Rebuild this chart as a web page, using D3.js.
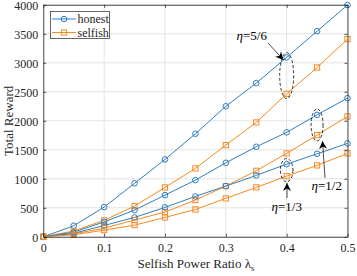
<!DOCTYPE html>
<html><head><meta charset="utf-8">
<script src="https://cdn.jsdelivr.net/npm/d3@7"></script>
<style>
html,body{margin:0;padding:0;background:#fff;}
svg{display:block;font-family:"Liberation Serif","Times New Roman",serif;}
</style></head>
<body>
<svg id="c" width="357" height="276"></svg>
<script>
const lambdas = [0, 0.05, 0.1, 0.15, 0.2, 0.25, 0.3, 0.35, 0.4, 0.45, 0.5];
const honest56  = [0, 190, 512, 922, 1334, 1776, 2250, 2650, 3093, 3546, 3995];
const selfish56 = [0, 100, 283, 530, 851, 1179, 1581, 1972, 2465, 2920, 3408];
const honest12  = [0, 80, 258, 460, 719, 977, 1276, 1552, 1800, 2103, 2391];
const selfish12 = [0, 50, 150, 288, 426, 633, 874, 1138, 1438, 1753, 2076];
const honest13  = [0, 60, 195, 334, 507, 697, 874, 1058, 1253, 1431, 1610];
const selfish13 = [0, 35, 115, 201, 334, 472, 662, 852, 1046, 1231, 1438];
const xTicks = [0, 0.1, 0.2, 0.3, 0.4, 0.5];
const yTicks = [0, 500, 1000, 1500, 2000, 2500, 3000, 3500, 4000];
const legendLabels = ["honest", "selfish"];

const blue = "#2f7fc0", orange = "#f7891f";
const svg = d3.select("#c");
const L = 43.3, R = 347.5, T = 4.8, B = 236.8;
const x = d3.scaleLinear().domain([0, 0.5]).range([L, R]);
const y = d3.scaleLinear().domain([0, 4000]).range([B, T]);

// grid
const g = svg.append("g");
g.selectAll(".gx").data(xTicks).join("line")
  .attr("x1", d => x(d)).attr("x2", d => x(d)).attr("y1", T).attr("y2", B)
  .attr("stroke", "#e3e3e3").attr("stroke-width", 1);
g.selectAll(".gy").data(yTicks).join("line")
  .attr("y1", d => y(d)).attr("y2", d => y(d)).attr("x1", L).attr("x2", R)
  .attr("stroke", "#e3e3e3").attr("stroke-width", 1);

// series
const series = [
  {v: honest56, c: blue, m: "o"}, {v: selfish56, c: orange, m: "s"},
  {v: honest12, c: blue, m: "o"}, {v: selfish12, c: orange, m: "s"},
  {v: honest13, c: blue, m: "o"}, {v: selfish13, c: orange, m: "s"}
];
const line = d3.line().x((d, i) => x(lambdas[i])).y(d => y(d));
function marker(sel, m, c) {
  if (m === "o") {
    sel.append("circle").attr("r", 2.8).attr("fill", "none").attr("stroke", c).attr("stroke-width", 1);
  } else {
    sel.append("rect").attr("x", -2.6).attr("y", -2.6).attr("width", 5.2).attr("height", 5.2)
      .attr("fill", "none").attr("stroke", c).attr("stroke-width", 1);
  }
}
series.forEach(s => {
  svg.append("path").datum(s.v).attr("d", line).attr("fill", "none")
    .attr("stroke", s.c).attr("stroke-width", 1);
});
series.forEach(s => {
  s.v.forEach((d, i) => {
    const mg = svg.append("g").attr("transform", `translate(${x(lambdas[i])},${y(d)})`);
    marker(mg, s.m, s.c);
  });
});

// axes
const axCol = "#262626";
const xa = svg.append("g").attr("transform", `translate(0,${B})`)
  .call(d3.axisBottom(x).tickValues(xTicks).tickSizeInner(-3).tickSizeOuter(0).tickPadding(7).tickFormat(d3.format("")));
const xt = svg.append("g").attr("transform", `translate(0,${T})`)
  .call(d3.axisTop(x).tickValues(xTicks).tickSizeInner(-3).tickSizeOuter(0).tickFormat(""));
const ya = svg.append("g").attr("transform", `translate(${L},0)`)
  .call(d3.axisLeft(y).tickValues(yTicks).tickSizeInner(-3).tickSizeOuter(0).tickPadding(5).tickFormat(d3.format("")));
const yr = svg.append("g").attr("transform", `translate(${R},0)`)
  .call(d3.axisRight(y).tickValues(yTicks).tickSizeInner(-3).tickSizeOuter(0).tickFormat(""));
[xa, xt, ya, yr].forEach(a => {
  a.select(".domain").attr("stroke", axCol).attr("stroke-width", 0.8);
  a.selectAll(".tick line").attr("stroke", axCol).attr("stroke-width", 0.8);
  a.selectAll("text").attr("fill", axCol).attr("font-size", 12)
    .attr("font-family", "Liberation Serif, serif");
});
ya.selectAll("text").attr("dy", "0.42em");

// axis labels
svg.append("text").attr("x", 196).attr("y", 268).attr("text-anchor", "middle")
  .attr("font-size", 13).attr("fill", axCol)
  .text("Selfish Power Ratio λ")
  .append("tspan").attr("font-size", 9).attr("dy", 3).text("s");
svg.append("text").attr("transform", `translate(13,${(T + B) / 2}) rotate(-90)`)
  .attr("text-anchor", "middle").attr("font-size", 13).attr("fill", axCol)
  .text("Total Reward");

// legend
const lg = svg.append("g");
lg.append("rect").attr("x", 50.5).attr("y", 11.5).attr("width", 59).attr("height", 27)
  .attr("fill", "#fff").attr("stroke", axCol).attr("stroke-width", 0.7);
legendLabels.forEach((t, i) => {
  const yy = 19 + i * 13.5;
  const c = i === 0 ? blue : orange;
  lg.append("line").attr("x1", 52).attr("x2", 76).attr("y1", yy).attr("y2", yy)
    .attr("stroke", c).attr("stroke-width", 1);
  const mg = lg.append("g").attr("transform", `translate(64,${yy})`);
  marker(mg, i === 0 ? "o" : "s", c);
  lg.append("text").attr("x", 77.5).attr("y", yy + 4).attr("font-size", 12)
    .attr("fill", axCol).text(t);
});

// annotations
const defs = svg.append("defs");
defs.append("marker").attr("id", "ah").attr("viewBox", "0 0 10 10")
  .attr("refX", 10).attr("refY", 5).attr("markerWidth", 8).attr("markerHeight", 8)
  .attr("markerUnits", "userSpaceOnUse").attr("orient", "auto")
  .append("path").attr("d", "M0,0 L10,5 L0,10 L3,5 Z").attr("fill", "#000");

function ellipse(cx, cy, rx, ry) {
  svg.append("ellipse").attr("cx", cx).attr("cy", cy).attr("rx", rx).attr("ry", ry)
    .attr("fill", "none").attr("stroke", "#000").attr("stroke-width", 0.8)
    .attr("stroke-dasharray", "3,2");
}
function label(tx, ty, txt) {
  const t = svg.append("text").attr("x", tx).attr("y", ty).attr("font-size", 13).attr("fill", "#000");
  t.append("tspan").attr("font-style", "italic").text("η");
  t.append("tspan").text(txt);
}
function arrow(x1, y1, x2, y2) {
  svg.append("line").attr("x1", x1).attr("y1", y1).attr("x2", x2).attr("y2", y2)
    .attr("stroke", "#000").attr("stroke-width", 0.7).attr("marker-end", "url(#ah)");
}
// eta = 5/6
ellipse(x(0.4), (y(honest56[8]) + y(selfish56[8])) / 2, 7, 23);
label(236.5, 40, "=5/6");
arrow(268, 43, 283.5, 60);
// eta = 1/2
ellipse(x(0.45), (y(honest12[9]) + y(selfish12[9])) / 2, 6, 16);
label(311.5, 190, "=1/2");
arrow(325, 178, 322.5, 141);
// eta = 1/3
ellipse(x(0.4), (y(honest13[8]) + y(selfish13[8])) / 2, 6.3, 11.7);
label(271.5, 211, "=1/3");
arrow(287, 198, 287, 183);
</script>
</body></html>
